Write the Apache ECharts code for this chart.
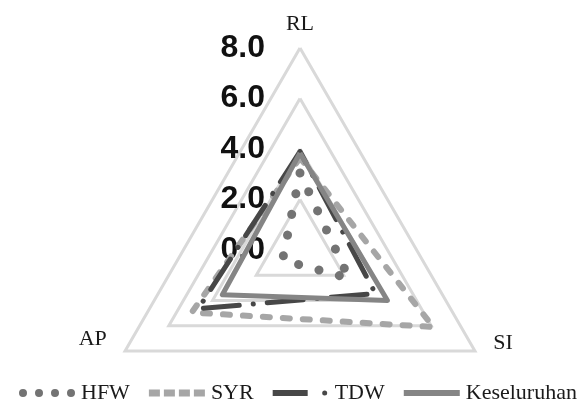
<!DOCTYPE html>
<html>
<head>
<meta charset="utf-8">
<script src="https://cdn.jsdelivr.net/npm/echarts@6/dist/echarts.min.js"></script>
<style>
html,body{margin:0;padding:0;background:#fff;}
#chart{width:588px;height:404px;}
</style>
</head>
<body>
<div id="chart"></div>
<script>
// Data
const indicatorNames = ['RL', 'AP', 'SI'];
const axisMax = 8;
const seriesNames = ['HFW', 'SYR', 'TDW', 'Keseluruhan'];
const hfwValues = [3.05, 0.8, 2.24];
const syrValues = [3.65, 4.95, 6.1];
const tdwValues = [3.9, 4.65, 3.45];
const keseluruhanValues = [3.84, 3.55, 4.0];

const colors = ['#737373', '#a6a6a6', '#474747', '#858585'];

const chart = echarts.init(document.getElementById('chart'), null, {renderer: 'canvas'});

const legendIcons = {
  HFW: 'path://M0,4a4,4 0 1,0 8,0a4,4 0 1,0 -8,0Z M16,4a4,4 0 1,0 8,0a4,4 0 1,0 -8,0Z M32,4a4,4 0 1,0 8,0a4,4 0 1,0 -8,0Z M48,4a4,4 0 1,0 8,0a4,4 0 1,0 -8,0Z',
  SYR: 'path://M0,0.5H11V7.5H0Z M15,0.5H26V7.5H15Z M30,0.5H41V7.5H30Z M45,0.5H56V7.5H45Z M0,0H0.01V8H0Z',
  TDW: 'path://M0,1H35V7H0Z M49.5,4a2.5,2.5 0 1,0 5,0a2.5,2.5 0 1,0 -5,0Z M0,0H0.01V8H0Z M55.99,0H56V8H55.99Z',
  Keseluruhan: 'path://M0,1H56V7H0Z M0,0H0.01V8H0Z'
};

const lineTypes = {
  HFW: {type: [0.1, 21], cap: 'round', width: 9},
  SYR: {type: [7, 13], cap: 'round', width: 6},
  TDW: {type: [36, 14, 0.1, 14], cap: 'round', width: 5},
  Keseluruhan: {type: 'solid', cap: 'butt', width: 5}
};

const valueLists = [hfwValues, syrValues, tdwValues, keseluruhanValues];

const option = {
  animation: false,
  color: colors,
  legend: {
    left: 14,
    top: 377,
    itemWidth: 58,
    itemHeight: 8,
    itemGap: 19,
    itemStyle: {borderWidth: 0},
    textStyle: {fontFamily: 'Liberation Serif', fontSize: 22, color: '#1a1a1a'},
    data: seriesNames.map(n => ({name: n, icon: legendIcons[n]}))
  },
  radar: {
    center: [300, 250],
    radius: 202,
    startAngle: 90,
    shape: 'polygon',
    splitNumber: 4,
    indicator: indicatorNames.map((n, i) => {
      const ind = {name: n, min: 0, max: axisMax};
      if (i === 0) {
        ind.axisLabel = {show: true};
      }
      return ind;
    }),
    nameGap: 13,
    axisName: {
      color: '#1a1a1a',
      fontFamily: 'Liberation Serif',
      fontSize: 22,
      formatter: function (name) {
        if (name === 'AP') return '{ap|AP}';
        if (name === 'SI') return '{si|SI}';
        return name;
      },
      rich: {
        ap: {fontFamily: 'Liberation Serif', fontSize: 22, color: '#1a1a1a', padding: [0, 7, 37, 0]},
        si: {fontFamily: 'Liberation Serif', fontSize: 22, color: '#1a1a1a', padding: [0, 0, 28, 7]}
      }
    },
    axisLine: {show: false},
    axisTick: {show: false},
    axisLabel: {
      show: false,
      margin: 35,
      fontFamily: 'Liberation Sans',
      fontWeight: 'bold',
      fontSize: 32,
      color: '#111',
      formatter: v => Number(v).toFixed(1)
    },
    splitLine: {lineStyle: {color: '#d9d9d9', width: 3}},
    splitArea: {show: false}
  },
  series: seriesNames.map((n, i) => ({
    name: n,
    type: 'radar',
    symbol: 'none',
    z: 2 + i,
    lineStyle: Object.assign({color: colors[i]}, lineTypes[n]),
    data: [{value: valueLists[i], name: n}]
  }))
};

chart.setOption(option);
</script>
</body>
</html>
